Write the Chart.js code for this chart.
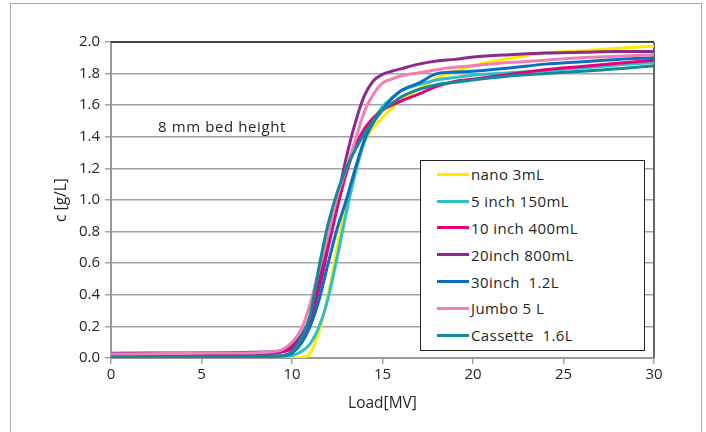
<!DOCTYPE html>
<html lang="en">
<head>
    <meta charset="UTF-8">
    <title>Breakthrough curves</title>
    <script src="https://cdn.jsdelivr.net/npm/chart.js@4.4.0/dist/chart.umd.min.js"></script>
    <style>
        body { margin: 0; background: #fff; font-family: "Open Sans", sans-serif; color: #262626; }
        .wrap { position: relative; width: 706px; height: 432px; overflow: hidden; }
        .frame { position: absolute; left: 10px; top: 3px; width: 690px; height: 500px; border: 1.5px solid #a8a8a8; }
        canvas { position: absolute; left: 0; top: 0; }
        .note { position: absolute; left: 158px; top: 116px; font-size: 15px; letter-spacing: 0.6px; }
        .legend { position: absolute; left: 420px; top: 160px; width: 223px; height: 189px; border: 1px solid #222; background: #fff; }
        .legend-row { display: flex; align-items: center; height: 26.8px; font-size: 15px; letter-spacing: 0.4px; }
        .legend-row span.swatch { display: inline-block; width: 32px; height: 3px; margin-left: 16px; margin-right: 2px; }
    </style>
</head>
<body>
    <div class="wrap">
        <div class="frame"></div>
        <canvas id="chart" width="706" height="432"></canvas>
        <div class="note">8 mm bed height</div>
        <div class="legend" id="legend"></div>
    </div>

    <script>
        // load axis (shared by every series)
        const loads = [0, 2, 4, 6, 8, 9, 9.5, 10, 10.5, 11, 11.5, 12, 12.5, 13, 13.5, 14, 14.5, 15, 15.5, 16, 17, 18, 19, 20, 22, 24, 26, 28, 30];

        const nano3mL = [0, 0, 0, 0, 0, 0, 0, 0, 0.003, 0.03, 0.17, 0.4, 0.7, 0.98, 1.2, 1.37, 1.46, 1.52, 1.58, 1.63, 1.70, 1.77, 1.815, 1.85, 1.895, 1.93, 1.945, 1.96, 1.975];
        const inch5 = [0.005, 0.005, 0.005, 0.006, 0.007, 0.008, 0.01, 0.015, 0.04, 0.09, 0.2, 0.38, 0.64, 0.92, 1.17, 1.37, 1.5, 1.59, 1.645, 1.69, 1.73, 1.76, 1.775, 1.79, 1.805, 1.82, 1.835, 1.855, 1.87];
        const inch10 = [0.02, 0.021, 0.022, 0.024, 0.026, 0.03, 0.04, 0.06, 0.12, 0.24, 0.44, 0.7, 0.95, 1.17, 1.34, 1.45, 1.52, 1.57, 1.60, 1.625, 1.67, 1.72, 1.75, 1.765, 1.795, 1.825, 1.845, 1.865, 1.885];
        const inch20 = [0.03, 0.031, 0.032, 0.034, 0.037, 0.04, 0.05, 0.08, 0.14, 0.26, 0.5, 0.76, 1.0, 1.27, 1.49, 1.66, 1.755, 1.795, 1.815, 1.83, 1.86, 1.88, 1.89, 1.905, 1.92, 1.93, 1.935, 1.94, 1.94];
        const inch30 = [0.01, 0.01, 0.01, 0.011, 0.012, 0.012, 0.015, 0.03, 0.09, 0.2, 0.37, 0.6, 0.82, 1.0, 1.2, 1.38, 1.49, 1.57, 1.64, 1.69, 1.74, 1.80, 1.81, 1.815, 1.835, 1.86, 1.875, 1.89, 1.90];
        const jumbo5L = [0.025, 0.027, 0.029, 0.031, 0.034, 0.04, 0.055, 0.1, 0.18, 0.34, 0.56, 0.78, 1.02, 1.2, 1.38, 1.56, 1.67, 1.74, 1.765, 1.785, 1.805, 1.825, 1.84, 1.85, 1.87, 1.885, 1.9, 1.91, 1.92];
        const cassette = [0.005, 0.005, 0.006, 0.007, 0.008, 0.01, 0.015, 0.04, 0.12, 0.27, 0.58, 0.85, 1.05, 1.2, 1.32, 1.42, 1.5, 1.57, 1.61, 1.65, 1.70, 1.73, 1.745, 1.76, 1.785, 1.80, 1.815, 1.83, 1.85];

        const seriesNames = ['nano 3mL', '5 inch 150mL', '10 inch 400mL', '20inch 800mL', '30inch  1.2L', 'Jumbo 5 L', 'Cassette  1.6L'];
        const seriesValues = [nano3mL, inch5, inch10, inch20, inch30, jumbo5L, cassette];
        const seriesColors = ['#ffeb00', '#2ec0c2', '#e6007e', '#8b2b8e', '#0a6fc0', '#f07fb3', '#138a95'];

        const xTicks = [0, 5, 10, 15, 20, 25, 30];
        const gridGray = '#a3a3a3';

        // plot frame: black top, dark grey right side
        const frameBorder = {
            id: 'frameBorder',
            beforeDatasetsDraw(chart) {
                const { ctx, chartArea: a } = chart;
                ctx.save();
                ctx.lineWidth = 1.5;
                ctx.strokeStyle = '#222';
                ctx.beginPath();
                ctx.moveTo(a.left, a.top);
                ctx.lineTo(a.right, a.top);
                ctx.stroke();
                ctx.strokeStyle = '#666';
                ctx.lineWidth = 2;
                ctx.beginPath();
                ctx.moveTo(a.right, a.top);
                ctx.lineTo(a.right, a.bottom);
                ctx.stroke();
                ctx.restore();
            }
        };

        const datasets = seriesNames.map((name, i) => ({
            label: name,
            data: loads.map((x, k) => ({ x: x, y: seriesValues[i][k] })),
            borderColor: seriesColors[i],
            backgroundColor: seriesColors[i],
            borderWidth: 3,
            pointRadius: 0,
            fill: false,
            cubicInterpolationMode: 'monotone',
            order: seriesNames.length - i
        }));

        const tickFont = { family: '"Open Sans", sans-serif', size: 15 };
        const titleFont = { family: '"Open Sans", sans-serif', size: 15.5 };

        new Chart(document.getElementById('chart'), {
            type: 'line',
            data: { datasets: datasets },
            options: {
                responsive: false,
                animation: false,
                layout: { padding: { top: 42, right: 52, left: 0, bottom: 0 } },
                plugins: { legend: { display: false }, tooltip: { enabled: false } },
                scales: {
                    x: {
                        type: 'linear',
                        min: 0,
                        max: 30,
                        afterBuildTicks: (scale) => { scale.ticks = xTicks.map(v => ({ value: v })); },
                        ticks: { color: '#262626', font: tickFont, padding: 2, maxRotation: 0 },
                        grid: { drawOnChartArea: false, color: gridGray, lineWidth: 1.5, tickLength: 6 },
                        border: { color: '#999', width: 2 },
                        title: { display: true, text: 'Load[MV]', color: '#262626', font: titleFont, padding: { top: 0, bottom: 19 } },
                        afterFit: (scale) => { scale.height = 74; }
                    },
                    y: {
                        min: 0,
                        max: 2,
                        ticks: { stepSize: 0.2, color: '#262626', font: tickFont, padding: 5, callback: v => v.toFixed(1) },
                        grid: { color: gridGray, lineWidth: 1.5, tickLength: 6 },
                        border: { color: '#999', width: 2 },
                        title: { display: true, text: 'c [g/L]', color: '#262626', font: titleFont, padding: { top: 52, bottom: 0 } },
                        afterFit: (scale) => { scale.width = 111; }
                    }
                }
            },
            plugins: [frameBorder]
        });

        // legend box inside the plot
        const legend = document.getElementById('legend');
        seriesNames.forEach((name, i) => {
            const row = document.createElement('div');
            row.className = 'legend-row';
            row.innerHTML = `<span class="swatch" style="background:${seriesColors[i]}"></span><span>${name.replace(/  /g, '&nbsp; ')}</span>`;
            legend.appendChild(row);
        });
    </script>
</body>
</html>
